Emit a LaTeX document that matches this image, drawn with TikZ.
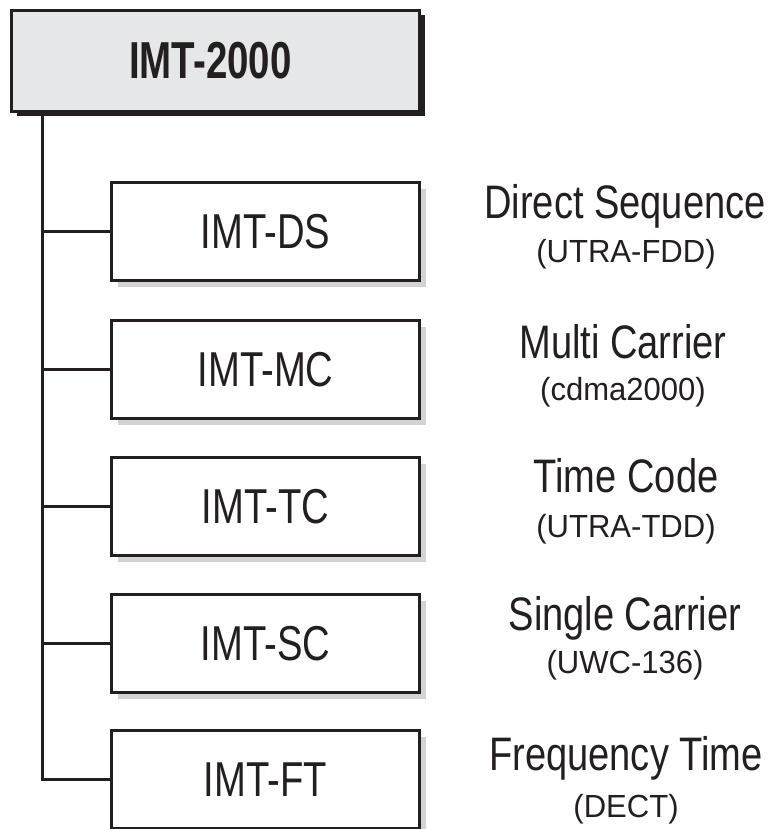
\documentclass[tikz,border=0pt]{standalone}
\usepackage{fontspec}
\setmainfont{Liberation Sans}
\newfontfamily\headfont[FakeStretch=0.74]{Liberation Sans}
\newfontfamily\boxfont[FakeStretch=0.78]{Liberation Sans}
\newfontfamily\descfont[FakeStretch=0.81]{Liberation Sans}
\newfontfamily\subfont[FakeStretch=0.97]{Liberation Sans}
\usetikzlibrary{shadows}
\definecolor{ink}{HTML}{231F20}
\definecolor{rootfill}{HTML}{E6E7E8}
\definecolor{softshadow}{HTML}{D1D3D4}
\tikzset{
  rootbox/.style={draw=ink, line width=3pt, fill=rootfill, inner sep=0pt,
    minimum width=408pt, minimum height=101pt,
    drop shadow={shadow xshift=5pt, shadow yshift=-5pt, fill=ink, opacity=1},
    font=\headfont\bfseries\fontsize{52}{52}\selectfont, text=ink},
  childbox/.style={draw=ink, line width=3pt, fill=white, inner sep=0pt,
    minimum width=308pt, minimum height=98pt,
    drop shadow={shadow xshift=6pt, shadow yshift=-6pt, fill=softshadow, opacity=1},
    font=\boxfont\fontsize{49}{49}\selectfont, text=ink},
  desc/.style={anchor=base, inner sep=0pt, text=ink,
    font=\descfont\fontsize{47}{47}\selectfont},
  sub/.style={anchor=base, inner sep=0pt, text=ink,
    font=\subfont\fontsize{32}{32}\selectfont},
  link/.style={draw=ink, line width=3pt},
}
\begin{document}
\begin{tikzpicture}[x=1pt,y=-1pt]
\useasboundingbox (0,0) rectangle (776,829);

% top-level standard
\node[rootbox] (root) at (215.5,61) {\hspace*{-10pt}IMT-2000};

% the five radio interfaces
\node[childbox] (ds) at (265.5,231.5) {IMT-DS};
\node[childbox] (mc) at (265.5,369.5) {IMT-MC};
\node[childbox] (tc) at (265.5,506.5) {IMT-TC};
\node[childbox] (sc) at (265.5,643.5) {IMT-SC};
\node[childbox] (ft) at (265.5,779.5) {IMT-FT};

% tree connectors
\coordinate (trunk) at (42,116);
\draw[link] (trunk) |- (ft.west);
\foreach \c in {ds,mc,tc,sc}
  \draw[link] (trunk |- \c.west) -- (\c.west);

% descriptions
\node[desc] (dsname) at (625,218) {Direct Sequence};
\node[sub]  (dssub)  at (626,262) {(UTRA-FDD)};
\node[desc] (mcname) at (623,358) {Multi Carrier};
\node[sub]  (mcsub)  at (623,400) {(cdma2000)};
\node[desc] (tcname) at (626,492) {Time Code};
\node[sub]  (tcsub)  at (626,537) {(UTRA-TDD)};
\node[desc] (scname) at (625,630) {Single Carrier};
\node[sub]  (scsub)  at (625,673) {(UWC-136)};
\node[desc] (ftname) at (626,770) {Frequency Time};
\node[sub]  (ftsub)  at (626,817) {(DECT)};
\end{tikzpicture}
\end{document}
